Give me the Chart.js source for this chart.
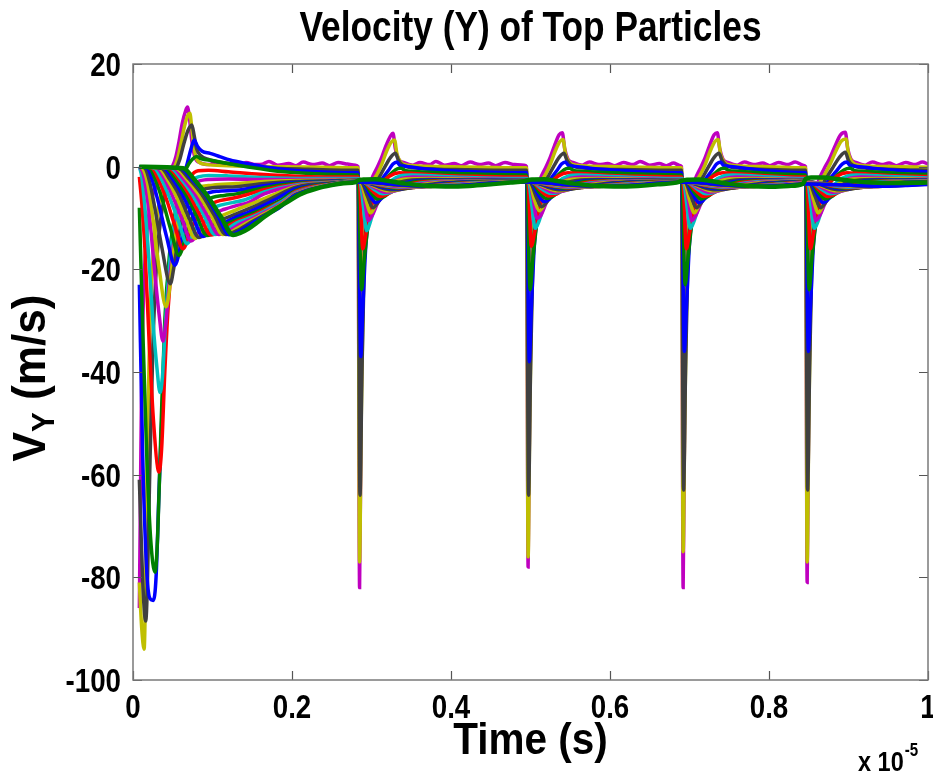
<!DOCTYPE html>
<html>
<head>
<meta charset="utf-8">
<title>Velocity (Y) of Top Particles</title>
<script src="https://cdn.jsdelivr.net/npm/chart.js@4.4.1/dist/chart.umd.min.js"></script>
<style>
  html, body { margin: 0; padding: 0; background: #fff; }
  canvas { display: block; }
</style>
</head>
<body>
<canvas id="vyChart" width="933" height="776"></canvas>
<script>
// time is in units of 1e-5 s, velocity in m/s; each particle is a list of [time, vy] points
const vy00 = [[0.008,-86],[0.0095,-62],[0.011,-40],[0.014,-22],[0.018,-12],[0.024,-6],[0.032,-3],[0.042,-1],[0.050,0.2],[0.054,2],[0.058,5],[0.062,8.5],[0.066,10.8],[0.0685,11.6],[0.071,9.5],[0.074,5],[0.078,1.8],[0.084,0.8],
  [0.096,0.4],[0.104,0.9],[0.113,0.3],[0.125,0.6],[0.133,0.2],[0.142,0.8],[0.155,0.4],[0.163,0.5],[0.171,1.0],[0.182,0.3],[0.196,0.6],[0.205,0.2],[0.214,0.9],[0.226,0.4],[0.238,0.7],[0.247,0.2],[0.258,0.8],[0.270,0.5],[0.280,0.3],
  [0.283,0],[0.285,-82],[0.287,-45],[0.290,-15],[0.294,-6],[0.300,-2.5],[0.306,-0.5],[0.312,1.5],[0.318,4],[0.324,6],[0.327,6.5],[0.330,3.5],[0.334,1.5],[0.341,0.8],
  [0.352,0.3],[0.361,0.8],[0.373,0.4],[0.381,1.0],[0.392,0.3],[0.404,0.6],[0.413,0.2],[0.424,0.9],[0.436,0.4],[0.447,0.7],[0.456,0.2],[0.468,0.8],[0.480,0.4],[0.492,0.3],
  [0.495,0],[0.497,-78],[0.499,-45],[0.502,-15],[0.506,-6],[0.512,-2.5],[0.518,-0.5],[0.524,1.5],[0.530,4],[0.536,6.2],[0.540,6.6],[0.543,3.5],[0.547,1.5],[0.554,0.8],
  [0.565,0.3],[0.574,0.9],[0.586,0.4],[0.597,0.6],[0.606,0.2],[0.617,0.8],[0.629,0.4],[0.638,1.0],[0.650,0.3],[0.662,0.6],[0.671,0.2],[0.680,0.7],[0.687,0.3],
  [0.690,0],[0.692,-82],[0.694,-45],[0.697,-15],[0.701,-6],[0.707,-2.5],[0.713,-0.5],[0.719,1.5],[0.725,4],[0.731,6.2],[0.735,6.6],[0.738,3.5],[0.742,1.5],[0.749,0.8],
  [0.760,0.3],[0.769,0.9],[0.781,0.4],[0.792,0.7],[0.801,0.2],[0.812,0.8],[0.824,0.4],[0.833,0.9],[0.843,0.3],
  [0.846,0],[0.848,-81],[0.850,-45],[0.853,-15],[0.857,-6],[0.863,-2.5],[0.869,-0.5],[0.876,1.5],[0.883,4],[0.890,6.2],[0.896,6.7],[0.899,3.5],[0.903,1.5],[0.910,0.8],
  [0.921,0.3],[0.930,0.9],[0.942,0.4],[0.951,0.7],[0.960,0.2],[0.972,0.8],[0.984,0.4],[0.993,0.9],[1.0,0.5]];
const vy01 = [[0.008,-81],[0.011,-90],[0.014,-94],[0.016,-80],[0.018,-55],[0.021,-32],[0.025,-18],[0.032,-8],[0.042,-3],[0.050,-0.8],[0.056,1.5],[0.061,5],[0.065,8],[0.069,10],[0.0715,10.4],[0.074,7.5],[0.077,3.5],[0.081,1.2],[0.09,0.5],[0.12,0.2],[0.18,0],[0.24,-0.1],[0.280,-0.2],
  [0.283,-0.2],[0.285,-77],[0.287,-50],[0.290,-20],[0.294,-8],[0.300,-3.5],[0.307,-1.5],[0.313,0.5],[0.319,3],[0.325,4.8],[0.329,5.2],[0.332,2.5],[0.336,1],[0.345,0.3],[0.40,0],[0.492,-0.2],
  [0.495,-0.2],[0.497,-76],[0.499,-50],[0.502,-20],[0.506,-8],[0.512,-3.5],[0.519,-1.5],[0.525,0.5],[0.531,3],[0.537,4.9],[0.541,5.3],[0.544,2.5],[0.548,1],[0.557,0.3],[0.61,0],[0.687,-0.2],
  [0.690,-0.2],[0.692,-75],[0.694,-50],[0.697,-20],[0.701,-8],[0.707,-3.5],[0.714,-1.5],[0.720,0.5],[0.726,3],[0.732,4.9],[0.736,5.3],[0.739,2.5],[0.743,1],[0.752,0.3],[0.80,0],[0.843,-0.2],
  [0.846,-0.2],[0.848,-77],[0.850,-50],[0.853,-20],[0.857,-8],[0.863,-3.5],[0.870,-1.5],[0.877,0.5],[0.884,3],[0.891,5],[0.897,5.4],[0.900,2.5],[0.904,1],[0.913,0.3],[0.96,0],[1.0,-0.1]];
const vy02 = [[0.008,-61],[0.012,-80],[0.016,-88.5],[0.018,-82],[0.021,-60],[0.025,-35],[0.030,-18],[0.037,-8],[0.045,-3],[0.053,-0.8],[0.059,1.5],[0.064,4.5],[0.069,7],[0.074,8.1],[0.077,6],[0.080,3.5],[0.085,2.2],[0.095,1.4],[0.12,0.6],[0.16,-0.1],[0.22,-0.5],[0.280,-0.7],
  [0.283,-0.7],[0.2855,-64],[0.288,-40],[0.291,-18],[0.296,-8],[0.303,-4],[0.310,-2],[0.317,0],[0.324,1.8],[0.330,2.6],[0.334,1.2],[0.339,0.3],[0.36,-0.3],[0.42,-0.6],[0.492,-0.7],
  [0.495,-0.7],[0.4975,-64],[0.500,-40],[0.503,-18],[0.508,-8],[0.515,-4],[0.522,-2],[0.529,0],[0.536,1.8],[0.542,2.6],[0.546,1.2],[0.551,0.3],[0.57,-0.3],[0.63,-0.6],[0.687,-0.7],
  [0.690,-0.7],[0.6925,-63],[0.695,-40],[0.698,-18],[0.703,-8],[0.710,-4],[0.717,-2],[0.724,0],[0.731,1.8],[0.737,2.6],[0.741,1.2],[0.746,0.3],[0.765,-0.3],[0.81,-0.6],[0.843,-0.7],
  [0.846,-0.7],[0.8485,-63],[0.851,-40],[0.854,-18],[0.859,-8],[0.866,-4],[0.873,-2],[0.881,0],[0.889,1.9],[0.896,2.8],[0.900,1.2],[0.905,0.3],[0.925,-0.3],[0.97,-0.6],[1.0,-0.7]];
const vy03 = [[0.008,-23],[0.012,-55],[0.017,-78],[0.021,-84],[0.0255,-84.5],[0.029,-80],[0.033,-62],[0.038,-42],[0.044,-23],[0.050,-14],[0.056,-7],[0.062,-2.5],[0.068,0.5],[0.073,3.5],[0.077,5.2],[0.081,4],[0.087,3],[0.097,2.6],[0.11,1.9],[0.122,1.3],[0.143,0.6],[0.164,0],[0.2,-0.7],[0.248,-1.1],[0.280,-1.2],
  [0.283,-1.2],[0.2865,-37],[0.289,-28],[0.293,-15],[0.298,-8],[0.305,-4.5],[0.313,-2.5],[0.321,-0.8],[0.327,0.5],[0.332,0.9],[0.336,0.2],[0.342,0.1],[0.36,-0.3],[0.40,-0.8],[0.45,-1.1],[0.492,-1.2],
  [0.495,-1.2],[0.4985,-38],[0.501,-28],[0.505,-15],[0.510,-8],[0.517,-4.5],[0.525,-2.5],[0.533,-0.8],[0.539,0.5],[0.544,0.9],[0.548,0.2],[0.554,0.1],[0.575,-0.3],[0.62,-0.8],[0.687,-1.2],
  [0.690,-1.2],[0.6935,-36],[0.696,-28],[0.700,-15],[0.705,-8],[0.712,-4.5],[0.720,-2.5],[0.728,-0.8],[0.734,0.5],[0.739,0.9],[0.743,0.2],[0.749,0.1],[0.77,-0.3],[0.80,-0.8],[0.843,-1.2],
  [0.846,-1.2],[0.8495,-36],[0.852,-28],[0.856,-15],[0.861,-8],[0.868,-4.5],[0.876,-2.5],[0.885,-0.8],[0.892,0.5],[0.898,0.9],[0.902,0.2],[0.908,0.1],[0.93,-0.3],[0.97,-0.8],[1.0,-1.0]];
const vy04 = [[0.008,-8],[0.012,-30],[0.017,-55],[0.022,-72],[0.0277,-79],[0.031,-72],[0.035,-52],[0.040,-30],[0.046,-17],[0.052,-10],[0.058,-5],[0.064,-1.5],[0.070,0.5],[0.075,1.5],[0.080,2.0],[0.086,1.5],[0.10,1.2],[0.12,0.6],[0.143,0],[0.19,-1.0],[0.23,-1.4],[0.280,-1.6],
  [0.283,-1.6],[0.2875,-24],[0.291,-18],[0.296,-11],[0.302,-6.5],[0.310,-3.8],[0.319,-2.2],[0.327,-1.0],[0.333,-0.4],[0.337,-0.3],[0.343,-0.8],[0.36,-1.0],[0.42,-1.4],[0.492,-1.6],
  [0.495,-1.6],[0.4995,-24],[0.503,-18],[0.508,-11],[0.514,-6.5],[0.522,-3.8],[0.531,-2.2],[0.539,-1.0],[0.545,-0.4],[0.549,-0.3],[0.555,-0.8],[0.575,-1.0],[0.63,-1.4],[0.687,-1.6],
  [0.690,-1.6],[0.6945,-23],[0.698,-18],[0.703,-11],[0.709,-6.5],[0.717,-3.8],[0.726,-2.2],[0.734,-1.0],[0.740,-0.4],[0.744,-0.3],[0.750,-0.8],[0.77,-1.0],[0.81,-1.4],[0.843,-1.6],
  [0.846,-1.6],[0.8505,-24],[0.854,-18],[0.859,-11],[0.865,-6.5],[0.873,-3.8],[0.882,-2.2],[0.891,-1.0],[0.898,-0.4],[0.902,-0.3],[0.908,-0.8],[0.93,-1.0],[0.97,-1.4],[1.0,-1.5]];
const vy05 = [[0.008,-2],[0.011,-7],[0.015,-16],[0.020,-33],[0.026,-50],[0.0327,-59.5],[0.036,-55],[0.040,-40],[0.044,-28],[0.050,-17],[0.057,-9],[0.064,-4.5],[0.072,-2],[0.082,-0.8],[0.095,-0.7],[0.12,-1.0],[0.16,-1.5],[0.21,-1.9],[0.280,-2.0],
  [0.283,-2.0],[0.285,-3],[0.289,-16],[0.293,-13],[0.298,-9],[0.305,-5.5],[0.313,-3.2],[0.323,-1.8],[0.335,-1.2],[0.35,-1.3],[0.39,-1.7],[0.44,-1.9],[0.492,-2.0],
  [0.495,-2.0],[0.497,-3],[0.501,-15.5],[0.505,-13],[0.510,-9],[0.517,-5.5],[0.525,-3.2],[0.535,-1.8],[0.547,-1.2],[0.56,-1.3],[0.60,-1.7],[0.65,-1.9],[0.687,-2.0],
  [0.690,-2.0],[0.692,-3],[0.696,-16],[0.700,-13],[0.705,-9],[0.712,-5.5],[0.720,-3.2],[0.730,-1.8],[0.742,-1.2],[0.755,-1.3],[0.79,-1.7],[0.843,-2.0],
  [0.846,-2.0],[0.848,-3],[0.852,-16],[0.856,-13],[0.861,-9],[0.868,-5.5],[0.876,-3.2],[0.886,-1.8],[0.898,-1.2],[0.91,-1.3],[0.95,-1.7],[1.0,-1.9]];
const vy06 = [[0.008,0],[0.011,-2],[0.015,-8],[0.020,-18],[0.025,-30],[0.030,-39],[0.034,-44],[0.037,-41],[0.041,-30],[0.046,-19],[0.052,-11],[0.060,-5.5],[0.070,-3],[0.082,-2],[0.095,-1.7],[0.12,-1.8],[0.16,-2.1],[0.21,-2.3],[0.280,-2.3],
  [0.283,-2.3],[0.286,-3],[0.290,-8],[0.294,-12.5],[0.299,-10.5],[0.306,-7],[0.314,-4.5],[0.324,-2.8],[0.336,-1.8],[0.35,-1.6],[0.39,-1.9],[0.44,-2.2],[0.492,-2.3],
  [0.495,-2.3],[0.498,-3],[0.502,-8],[0.506,-12],[0.511,-10.5],[0.518,-7],[0.526,-4.5],[0.536,-2.8],[0.548,-1.8],[0.56,-1.6],[0.60,-1.9],[0.65,-2.2],[0.687,-2.3],
  [0.690,-2.3],[0.693,-3],[0.697,-8],[0.701,-12],[0.706,-10.5],[0.713,-7],[0.721,-4.5],[0.731,-2.8],[0.743,-1.8],[0.755,-1.6],[0.79,-1.9],[0.843,-2.3],
  [0.846,-2.3],[0.849,-3],[0.853,-8],[0.857,-12],[0.862,-10.5],[0.869,-7],[0.877,-4.5],[0.887,-2.8],[0.899,-1.8],[0.91,-1.6],[0.95,-1.9],[1.0,-2.2]];
const vy07 = [[0.008,0],[0.012,-1],[0.016,-4],[0.021,-10],[0.027,-20],[0.033,-29],[0.0377,-34],[0.041,-31],[0.046,-22],[0.052,-14],[0.059,-8],[0.068,-4.5],[0.08,-3],[0.095,-2.5],[0.12,-2.4],[0.16,-2.5],[0.21,-2.5],[0.280,-2.5],
  [0.283,-2.5],[0.287,-3],[0.291,-6],[0.296,-10.5],[0.301,-9.5],[0.308,-7],[0.316,-4.8],[0.326,-3.2],[0.338,-2.3],[0.352,-2.0],[0.39,-2.2],[0.44,-2.4],[0.492,-2.5],
  [0.495,-2.5],[0.499,-3],[0.503,-6],[0.508,-10],[0.513,-9.5],[0.520,-7],[0.528,-4.8],[0.538,-3.2],[0.550,-2.3],[0.564,-2.0],[0.60,-2.2],[0.65,-2.4],[0.687,-2.5],
  [0.690,-2.5],[0.694,-3],[0.698,-6],[0.703,-10.5],[0.708,-9.5],[0.715,-7],[0.723,-4.8],[0.733,-3.2],[0.745,-2.3],[0.759,-2.0],[0.80,-2.3],[0.843,-2.5],
  [0.846,-2.5],[0.850,-3],[0.854,-6],[0.859,-10.5],[0.864,-9.5],[0.871,-7],[0.879,-4.8],[0.889,-3.2],[0.901,-2.3],[0.915,-2.0],[0.96,-2.3],[1.0,-2.4]];
const vy08 = [[0.008,0],[0.012,-0.3],[0.018,-3],[0.025,-10],[0.033,-20],[0.0415,-27.3],[0.045,-25],[0.05,-18],[0.056,-11],[0.065,-6.5],[0.08,-4.2],[0.10,-3.6],[0.13,-3.3],[0.165,-2.9],[0.205,-2.7],[0.25,-2.65],[0.28,-2.6],
  [0.283,-2.6],[0.288,-3.5],[0.293,-6.5],[0.299,-9],[0.305,-7.5],[0.313,-5],[0.325,-3.3],[0.343,-2.4],[0.373,-2.3],[0.433,-2.5],[0.492,-2.6],
  [0.495,-2.6],[0.500,-3.5],[0.505,-6.5],[0.511,-8.6],[0.517,-7.5],[0.525,-5],[0.537,-3.3],[0.555,-2.4],[0.585,-2.3],[0.645,-2.5],[0.687,-2.6],
  [0.690,-2.6],[0.695,-3.5],[0.700,-6.5],[0.706,-9],[0.712,-7.5],[0.720,-5],[0.732,-3.3],[0.750,-2.4],[0.780,-2.3],[0.843,-2.6],
  [0.846,-2.6],[0.851,-3.5],[0.856,-6.5],[0.862,-9],[0.868,-7.5],[0.876,-5],[0.888,-3.3],[0.906,-2.4],[0.936,-2.3],[1.0,-2.5]];
const vy09 = [[0.008,0],[0.015,-0.3],[0.021,-3],[0.028,-8.5],[0.036,-15.5],[0.047,-22.8],[0.051,-20],[0.056,-15],[0.063,-9.5],[0.072,-6.3],[0.085,-4.6],[0.10,-4.1],[0.13,-3.9],[0.165,-3.3],[0.205,-2.9],[0.25,-2.75],[0.28,-2.65],
  [0.283,-2.65],[0.289,-3.3],[0.295,-5.8],[0.302,-8],[0.308,-7],[0.316,-5.2],[0.328,-3.6],[0.346,-2.7],[0.373,-2.5],[0.433,-2.6],[0.492,-2.65],
  [0.495,-2.65],[0.501,-3.3],[0.507,-5.8],[0.514,-7.8],[0.520,-7],[0.528,-5.2],[0.540,-3.6],[0.558,-2.7],[0.585,-2.5],[0.645,-2.6],[0.687,-2.65],
  [0.690,-2.65],[0.696,-3.3],[0.702,-5.8],[0.709,-8],[0.715,-7],[0.723,-5.2],[0.735,-3.6],[0.753,-2.7],[0.780,-2.5],[0.843,-2.65],
  [0.846,-2.65],[0.852,-3.3],[0.858,-5.8],[0.865,-8],[0.871,-7],[0.879,-5.2],[0.891,-3.6],[0.909,-2.7],[0.936,-2.5],[1.0,-2.6]];
const vy10 = [[0.008,0],[0.018,-0.3],[0.024,-2.5],[0.032,-7],[0.042,-13.5],[0.053,-19.2],[0.057,-17.5],[0.062,-13.5],[0.069,-9.5],[0.078,-6.8],[0.09,-5.4],[0.105,-4.8],[0.13,-4.6],[0.165,-3.7],[0.205,-3.1],[0.25,-2.85],[0.28,-2.7],
  [0.283,-2.7],[0.290,-3.2],[0.297,-5.3],[0.305,-7],[0.312,-6.3],[0.320,-5],[0.332,-3.7],[0.350,-2.9],[0.378,-2.6],[0.433,-2.65],[0.492,-2.7],
  [0.495,-2.7],[0.502,-3.2],[0.509,-5.3],[0.517,-6.8],[0.524,-6.3],[0.532,-5],[0.544,-3.7],[0.562,-2.9],[0.590,-2.6],[0.645,-2.65],[0.687,-2.7],
  [0.690,-2.7],[0.697,-3.2],[0.704,-5.3],[0.712,-7],[0.719,-6.3],[0.727,-5],[0.739,-3.7],[0.757,-2.9],[0.785,-2.6],[0.843,-2.7],
  [0.846,-2.7],[0.853,-3.2],[0.860,-5.3],[0.868,-7],[0.875,-6.3],[0.883,-5],[0.895,-3.7],[0.913,-2.9],[0.941,-2.6],[1.0,-2.65]];
const vy11 = [[0.008,0],[0.021,-0.3],[0.028,-2.5],[0.037,-6.5],[0.047,-12],[0.058,-17.3],[0.062,-16],[0.068,-12.5],[0.076,-9.5],[0.086,-7.3],[0.10,-6],[0.115,-5.6],[0.13,-5.3],[0.165,-4.1],[0.205,-3.25],[0.25,-2.92],[0.28,-2.75],
  [0.283,-2.75],[0.291,-3.2],[0.299,-5],[0.308,-6.3],[0.315,-5.9],[0.324,-4.9],[0.336,-3.8],[0.353,-3.0],[0.383,-2.7],[0.433,-2.7],[0.492,-2.75],
  [0.495,-2.75],[0.503,-3.2],[0.511,-5],[0.520,-6.2],[0.527,-5.9],[0.536,-4.9],[0.548,-3.8],[0.565,-3.0],[0.595,-2.7],[0.645,-2.7],[0.687,-2.75],
  [0.690,-2.75],[0.698,-3.2],[0.706,-5],[0.715,-6.3],[0.722,-5.9],[0.731,-4.9],[0.743,-3.8],[0.760,-3.0],[0.790,-2.7],[0.843,-2.75],
  [0.846,-2.75],[0.854,-3.2],[0.862,-5],[0.871,-6.3],[0.878,-5.9],[0.887,-4.9],[0.899,-3.8],[0.916,-3.0],[0.946,-2.7],[1.0,-2.72]];
const vy12 = [[0.008,0],[0.024,-0.3],[0.032,-2.5],[0.042,-6.3],[0.052,-11.2],[0.063,-16],[0.067,-15],[0.073,-12.3],[0.081,-9.7],[0.092,-7.8],[0.105,-6.8],[0.12,-6.3],[0.135,-5.8],[0.165,-4.5],[0.205,-3.4],[0.25,-3.0],[0.28,-2.78],
  [0.283,-2.78],[0.292,-3.2],[0.301,-4.7],[0.311,-5.8],[0.318,-5.5],[0.328,-4.7],[0.340,-3.8],[0.358,-3.1],[0.388,-2.8],[0.433,-2.75],[0.492,-2.78],
  [0.495,-2.78],[0.504,-3.2],[0.513,-4.7],[0.523,-5.7],[0.530,-5.5],[0.540,-4.7],[0.552,-3.8],[0.570,-3.1],[0.600,-2.8],[0.645,-2.75],[0.687,-2.78],
  [0.690,-2.78],[0.699,-3.2],[0.708,-4.7],[0.718,-5.8],[0.725,-5.5],[0.735,-4.7],[0.747,-3.8],[0.765,-3.1],[0.795,-2.8],[0.843,-2.78],
  [0.846,-2.78],[0.855,-3.2],[0.864,-4.7],[0.874,-5.8],[0.881,-5.5],[0.891,-4.7],[0.903,-3.8],[0.921,-3.1],[0.951,-2.8],[1.0,-2.76]];
const vy13 = [[0.008,0],[0.027,-0.3],[0.036,-2.5],[0.046,-6],[0.057,-10.5],[0.068,-15],[0.072,-14.3],[0.078,-12.3],[0.086,-10],[0.097,-8.3],[0.11,-7.5],[0.125,-7],[0.14,-6.5],[0.165,-4.9],[0.205,-3.55],[0.25,-3.05],[0.28,-2.8],
  [0.283,-2.8],[0.293,-3.2],[0.303,-4.4],[0.314,-5.3],[0.322,-5.1],[0.332,-4.5],[0.344,-3.8],[0.363,-3.2],[0.393,-2.85],[0.438,-2.78],[0.492,-2.8],
  [0.495,-2.8],[0.505,-3.2],[0.515,-4.4],[0.526,-5.2],[0.534,-5.1],[0.544,-4.5],[0.556,-3.8],[0.575,-3.2],[0.605,-2.85],[0.650,-2.78],[0.687,-2.8],
  [0.690,-2.8],[0.700,-3.2],[0.710,-4.4],[0.721,-5.3],[0.729,-5.1],[0.739,-4.5],[0.751,-3.8],[0.770,-3.2],[0.800,-2.85],[0.843,-2.8],
  [0.846,-2.8],[0.856,-3.2],[0.866,-4.4],[0.877,-5.3],[0.885,-5.1],[0.895,-4.5],[0.907,-3.8],[0.926,-3.2],[0.956,-2.85],[1.0,-2.8]];
const vy14 = [[0.008,0],[0.030,-0.3],[0.040,-2.5],[0.050,-5.8],[0.062,-10.3],[0.073,-14.5],[0.077,-14],[0.083,-12.5],[0.091,-10.6],[0.102,-9.1],[0.115,-8.3],[0.13,-7.6],[0.145,-7],[0.165,-5.3],[0.205,-3.7],[0.25,-3.1],[0.28,-2.83],
  [0.283,-2.83],[0.294,-3.2],[0.305,-4.2],[0.317,-5.0],[0.326,-4.85],[0.337,-4.4],[0.349,-3.8],[0.368,-3.25],[0.398,-2.9],[0.443,-2.8],[0.492,-2.83],
  [0.495,-2.83],[0.506,-3.2],[0.517,-4.2],[0.529,-4.95],[0.538,-4.85],[0.549,-4.4],[0.561,-3.8],[0.580,-3.25],[0.610,-2.9],[0.655,-2.8],[0.687,-2.83],
  [0.690,-2.83],[0.701,-3.2],[0.712,-4.2],[0.724,-5.0],[0.733,-4.85],[0.744,-4.4],[0.756,-3.8],[0.775,-3.25],[0.805,-2.9],[0.843,-2.83],
  [0.846,-2.83],[0.857,-3.2],[0.868,-4.2],[0.880,-5.0],[0.889,-4.85],[0.900,-4.4],[0.912,-3.8],[0.931,-3.25],[0.961,-2.9],[1.0,-2.82]];
const vy15 = [[0.008,0],[0.033,-0.3],[0.043,-2.4],[0.054,-5.6],[0.066,-10],[0.078,-14],[0.083,-13.5],[0.09,-12.2],[0.1,-10.6],[0.13,-8.4],[0.15,-7.2],[0.17,-5.9],[0.205,-3.85],[0.25,-3.15],[0.28,-2.85],
  [0.283,-2.85],[0.295,-3.2],[0.308,-4.1],[0.321,-4.7],[0.331,-4.6],[0.343,-4.25],[0.355,-3.8],[0.373,-3.3],[0.403,-2.95],[0.448,-2.82],[0.492,-2.85],
  [0.495,-2.85],[0.507,-3.2],[0.520,-4.1],[0.533,-4.7],[0.543,-4.6],[0.555,-4.25],[0.567,-3.8],[0.585,-3.3],[0.615,-2.95],[0.660,-2.82],[0.687,-2.85],
  [0.690,-2.85],[0.702,-3.2],[0.715,-4.1],[0.728,-4.7],[0.738,-4.6],[0.750,-4.25],[0.762,-3.8],[0.780,-3.3],[0.810,-2.95],[0.843,-2.85],
  [0.846,-2.85],[0.858,-3.2],[0.871,-4.1],[0.884,-4.7],[0.894,-4.6],[0.906,-4.25],[0.918,-3.8],[0.936,-3.3],[0.966,-2.95],[1.0,-2.84]];
const vy16 = [[0.008,0],[0.036,-0.3],[0.046,-2.4],[0.058,-5.5],[0.070,-9.8],[0.083,-13.8],[0.088,-13.4],[0.095,-12.3],[0.105,-10.9],[0.13,-9.2],[0.155,-7.6],[0.175,-6.1],[0.205,-4.0],[0.25,-3.2],[0.28,-2.87],
  [0.283,-2.87],[0.296,-3.2],[0.310,-4],[0.325,-4.5],[0.335,-4.45],[0.347,-4.15],[0.360,-3.8],[0.378,-3.35],[0.408,-3.0],[0.453,-2.85],[0.492,-2.87],
  [0.495,-2.87],[0.508,-3.2],[0.522,-4],[0.537,-4.5],[0.547,-4.45],[0.559,-4.15],[0.572,-3.8],[0.590,-3.35],[0.620,-3.0],[0.665,-2.85],[0.687,-2.87],
  [0.690,-2.87],[0.703,-3.2],[0.717,-4],[0.732,-4.5],[0.742,-4.45],[0.754,-4.15],[0.767,-3.8],[0.785,-3.35],[0.815,-3.0],[0.843,-2.87],
  [0.846,-2.87],[0.859,-3.2],[0.873,-4],[0.888,-4.5],[0.898,-4.45],[0.910,-4.15],[0.923,-3.8],[0.941,-3.35],[0.971,-3.0],[1.0,-2.9]];
const vy17 = [[0.008,0],[0.039,-0.3],[0.050,-2.4],[0.062,-5.4],[0.075,-9.6],[0.088,-13.6],[0.093,-13.3],[0.1,-12.4],[0.11,-11.3],[0.13,-9.8],[0.145,-8.9],[0.165,-7.5],[0.18,-6.3],[0.205,-4.3],[0.25,-3.25],[0.28,-2.89],
  [0.283,-2.89],[0.297,-3.2],[0.312,-3.9],[0.329,-4.3],[0.339,-4.27],[0.351,-4.05],[0.365,-3.75],[0.383,-3.4],[0.413,-3.05],[0.458,-2.88],[0.492,-2.89],
  [0.495,-2.89],[0.509,-3.2],[0.524,-3.9],[0.541,-4.3],[0.551,-4.27],[0.563,-4.05],[0.577,-3.75],[0.595,-3.4],[0.625,-3.05],[0.670,-2.88],[0.687,-2.89],
  [0.690,-2.89],[0.704,-3.2],[0.719,-3.9],[0.736,-4.3],[0.746,-4.27],[0.758,-4.05],[0.772,-3.75],[0.790,-3.4],[0.820,-3.05],[0.843,-2.89],
  [0.846,-2.89],[0.860,-3.2],[0.875,-3.9],[0.892,-4.3],[0.902,-4.27],[0.914,-4.05],[0.928,-3.75],[0.946,-3.4],[0.976,-3.05],[1.0,-2.95]];
const vy18 = [[0.008,0],[0.042,-0.3],[0.053,-2.3],[0.066,-5.3],[0.080,-9.5],[0.093,-13.4],[0.098,-13.2],[0.106,-12.3],[0.115,-11.4],[0.13,-10.35],[0.15,-9.1],[0.165,-8.1],[0.185,-6.6],[0.205,-4.6],[0.25,-3.3],[0.28,-2.91],
  [0.283,-2.91],[0.298,-3.2],[0.314,-3.8],[0.333,-4.2],[0.343,-4.18],[0.355,-4.0],[0.370,-3.75],[0.388,-3.45],[0.418,-3.1],[0.463,-2.9],[0.492,-2.91],
  [0.495,-2.91],[0.510,-3.2],[0.526,-3.8],[0.545,-4.2],[0.555,-4.18],[0.567,-4.0],[0.582,-3.75],[0.600,-3.45],[0.630,-3.1],[0.675,-2.9],[0.687,-2.91],
  [0.690,-2.91],[0.705,-3.2],[0.721,-3.8],[0.740,-4.2],[0.750,-4.18],[0.762,-4.0],[0.777,-3.75],[0.795,-3.45],[0.825,-3.1],[0.843,-2.95],
  [0.846,-2.95],[0.861,-3.2],[0.877,-3.8],[0.896,-4.2],[0.906,-4.18],[0.918,-4.0],[0.933,-3.75],[0.951,-3.45],[0.981,-3.1],[1.0,-3.0]];
const vy19 = [[0.008,0],[0.045,-0.3],[0.057,-2.3],[0.070,-5.3],[0.084,-9.4],[0.098,-13.3],[0.103,-13.1],[0.112,-12.2],[0.13,-10.7],[0.15,-9.5],[0.165,-8.4],[0.19,-6.5],[0.205,-4.8],[0.25,-3.35],[0.28,-2.93],
  [0.283,-2.93],[0.299,-3.2],[0.316,-3.75],[0.338,-4.1],[0.348,-4.08],[0.360,-3.95],[0.375,-3.72],[0.393,-3.48],[0.423,-3.15],[0.468,-2.92],[0.492,-2.93],
  [0.495,-2.93],[0.511,-3.2],[0.528,-3.75],[0.550,-4.1],[0.560,-4.08],[0.572,-3.95],[0.587,-3.72],[0.605,-3.48],[0.635,-3.15],[0.680,-2.92],[0.687,-2.93],
  [0.690,-2.93],[0.706,-3.2],[0.723,-3.75],[0.745,-4.1],[0.755,-4.08],[0.767,-3.95],[0.782,-3.72],[0.800,-3.48],[0.830,-3.15],[0.843,-3.0],
  [0.846,-3.0],[0.862,-3.2],[0.879,-3.75],[0.901,-4.1],[0.911,-4.08],[0.923,-3.95],[0.938,-3.72],[0.956,-3.48],[0.986,-3.15],[1.0,-3.05]];
const vy20 = [[0.008,0],[0.048,-0.3],[0.060,-2.3],[0.074,-5.3],[0.089,-9.4],[0.103,-13.2],[0.108,-13.05],[0.117,-12.3],[0.13,-11.0],[0.15,-9.8],[0.165,-8.7],[0.185,-7.0],[0.205,-5.0],[0.25,-3.4],[0.28,-2.94],
  [0.283,-2.94],[0.300,-3.2],[0.318,-3.7],[0.343,-4.0],[0.353,-3.99],[0.365,-3.9],[0.380,-3.7],[0.398,-3.5],[0.428,-3.2],[0.473,-2.95],[0.492,-2.94],
  [0.495,-2.94],[0.512,-3.2],[0.530,-3.7],[0.555,-4.0],[0.565,-3.99],[0.577,-3.9],[0.592,-3.7],[0.610,-3.5],[0.640,-3.2],[0.687,-2.95],
  [0.690,-2.94],[0.707,-3.2],[0.725,-3.7],[0.750,-4.0],[0.760,-3.99],[0.772,-3.9],[0.787,-3.7],[0.805,-3.5],[0.835,-3.2],[0.843,-3.05],
  [0.846,-3.05],[0.863,-3.2],[0.881,-3.7],[0.906,-4.0],[0.916,-3.99],[0.928,-3.9],[0.943,-3.7],[0.961,-3.5],[0.991,-3.2],[1.0,-3.15]];
const vy21 = [[0.008,0],[0.051,-0.3],[0.063,-2.3],[0.078,-5.3],[0.093,-9.4],[0.108,-13.2],[0.113,-13.05],[0.121,-12.5],[0.13,-11.6],[0.15,-10.1],[0.165,-8.95],[0.185,-7.3],[0.205,-5.15],[0.25,-3.45],[0.28,-2.95],
  [0.283,-2.95],[0.301,-3.2],[0.321,-3.65],[0.349,-3.95],[0.361,-3.93],[0.373,-3.85],[0.388,-3.7],[0.408,-3.5],[0.438,-3.2],[0.492,-2.95],
  [0.495,-2.95],[0.513,-3.2],[0.533,-3.65],[0.561,-3.95],[0.573,-3.93],[0.585,-3.85],[0.600,-3.7],[0.620,-3.5],[0.650,-3.2],[0.687,-2.97],
  [0.690,-2.97],[0.708,-3.2],[0.728,-3.65],[0.756,-3.95],[0.768,-3.93],[0.780,-3.85],[0.795,-3.7],[0.815,-3.5],[0.843,-3.15],
  [0.846,-3.15],[0.864,-3.25],[0.884,-3.65],[0.912,-3.95],[0.924,-3.93],[0.936,-3.85],[0.951,-3.7],[0.971,-3.5],[1.0,-3.25]];
const vy22 = [[0.008,0],[0.054,-0.3],[0.067,-2.3],[0.082,-5.3],[0.098,-9.4],[0.113,-13.2],[0.118,-13.05],[0.125,-12.6],[0.13,-12.1],[0.15,-10.4],[0.165,-9.2],[0.185,-7.5],[0.205,-5.3],[0.25,-3.5],[0.28,-2.96],
  [0.283,-2.96],[0.302,-3.2],[0.324,-3.6],[0.355,-3.9],[0.367,-3.88],[0.380,-3.82],[0.395,-3.7],[0.415,-3.5],[0.443,-3.2],[0.492,-2.96],
  [0.495,-2.96],[0.514,-3.2],[0.536,-3.6],[0.567,-3.9],[0.579,-3.88],[0.592,-3.82],[0.607,-3.7],[0.627,-3.5],[0.655,-3.2],[0.687,-2.98],
  [0.690,-2.98],[0.709,-3.2],[0.731,-3.6],[0.762,-3.9],[0.774,-3.88],[0.787,-3.82],[0.802,-3.7],[0.822,-3.5],[0.843,-3.25],
  [0.846,-3.25],[0.865,-3.3],[0.887,-3.6],[0.918,-3.9],[0.930,-3.88],[0.943,-3.82],[0.958,-3.7],[0.978,-3.5],[1.0,-3.3]];
const vy23 = [[0.008,0],[0.057,-0.3],[0.070,-2.3],[0.086,-5.3],[0.102,-9.4],[0.117,-13.2],[0.122,-13.05],[0.13,-12.5],[0.15,-10.7],[0.165,-9.4],[0.185,-7.7],[0.205,-5.4],[0.25,-3.52],[0.28,-2.97],
  [0.283,-2.97],[0.303,-3.15],[0.328,-3.55],[0.363,-3.85],[0.375,-3.84],[0.388,-3.78],[0.403,-3.68],[0.423,-3.5],[0.448,-3.2],[0.492,-2.97],
  [0.495,-2.97],[0.515,-3.15],[0.540,-3.55],[0.575,-3.85],[0.587,-3.84],[0.600,-3.78],[0.615,-3.68],[0.635,-3.5],[0.660,-3.2],[0.687,-3.0],
  [0.690,-3.0],[0.710,-3.15],[0.735,-3.55],[0.770,-3.85],[0.782,-3.84],[0.795,-3.78],[0.810,-3.68],[0.830,-3.5],[0.843,-3.35],
  [0.846,-3.35],[0.866,-3.4],[0.891,-3.55],[0.926,-3.85],[0.938,-3.84],[0.951,-3.78],[0.966,-3.68],[0.986,-3.5],[1.0,-3.4]];
const vy24 = [[0.008,0],[0.060,-0.3],[0.073,-2.3],[0.090,-5.3],[0.106,-9.4],[0.121,-13.25],[0.126,-13.1],[0.13,-12.9],[0.15,-11.0],[0.165,-9.6],[0.185,-7.9],[0.205,-5.5],[0.25,-3.55],[0.28,-2.98],
  [0.283,-2.98],[0.305,-3.1],[0.333,-3.5],[0.373,-3.8],[0.383,-3.8],[0.396,-3.75],[0.411,-3.65],[0.431,-3.45],[0.453,-3.2],[0.492,-2.98],
  [0.495,-2.98],[0.517,-3.1],[0.545,-3.5],[0.585,-3.8],[0.595,-3.8],[0.608,-3.75],[0.623,-3.65],[0.643,-3.45],[0.665,-3.2],[0.687,-3.02],
  [0.690,-3.02],[0.712,-3.1],[0.740,-3.5],[0.780,-3.8],[0.790,-3.8],[0.803,-3.75],[0.818,-3.65],[0.843,-3.4],
  [0.846,-3.4],[0.868,-3.45],[0.896,-3.55],[0.936,-3.8],[0.946,-3.8],[0.959,-3.75],[0.974,-3.65],[1.0,-3.45]];
const vy25 = [[0.008,0],[0.063,-0.3],[0.076,-2.3],[0.093,-5.6],[0.110,-9.6],[0.126,-13.3],[0.135,-12.9],[0.145,-12.1],[0.155,-11.0],[0.165,-9.8],[0.18,-8.2],[0.195,-6.8],[0.21,-5.4],[0.23,-4.3],[0.25,-3.6],[0.265,-3.25],[0.28,-3.0],
  [0.283,-2.7],[0.290,-2.5],[0.305,-2.45],[0.322,-2.8],[0.343,-3.3],[0.368,-3.7],[0.393,-3.85],[0.423,-3.75],[0.453,-3.4],[0.475,-3.1],[0.492,-2.85],
  [0.495,-2.7],[0.502,-2.5],[0.517,-2.45],[0.534,-2.8],[0.555,-3.3],[0.580,-3.7],[0.605,-3.85],[0.635,-3.75],[0.660,-3.45],[0.687,-2.95],
  [0.690,-2.75],[0.697,-2.55],[0.712,-2.5],[0.729,-2.85],[0.750,-3.35],[0.775,-3.75],[0.800,-3.9],[0.825,-3.75],[0.843,-3.3],
  [0.846,-2.4],[0.853,-2.1],[0.868,-2.1],[0.885,-2.4],[0.906,-2.8],[0.931,-3.1],[0.956,-3.2],[0.98,-3.15],[1.0,-3.1]];

const particleSeries = [vy00, vy01, vy02, vy03, vy04, vy05, vy06, vy07, vy08, vy09, vy10, vy11, vy12,
  vy13, vy14, vy15, vy16, vy17, vy18, vy19, vy20, vy21, vy22, vy23, vy24, vy25];
const lineColors = ['#bf00bf', '#bfbf00', '#404040', '#0000ff', '#008000', '#ff0000', '#00bfbf'];
const xTicks = [0, 0.2, 0.4, 0.6, 0.8, 1];
const xTickLabels = ['0', '0.2', '0.4', '0.6', '0.8', '1'];
const yTicks = [-100, -80, -60, -40, -20, 0, 20];
const yTickLabels = ['-100', '-80', '-60', '-40', '-20', '0', '20'];

const FONT = "'Liberation Sans', Arial, sans-serif";
const SQUEEZE = 0.84;   // the figure uses a condensed helvetica

const datasets = particleSeries.map((pts, i) => ({
  label: 'particle ' + (i + 1),
  data: pts.map(p => ({ x: p[0], y: p[1] })),
  borderColor: lineColors[i % lineColors.length],
  borderWidth: i === particleSeries.length - 1 ? 4.5 : 3.5,
  pointRadius: 0,
  fill: false,
  cubicInterpolationMode: 'monotone',
  order: particleSeries.length - i   // later particles drawn on top
}));

function condensedText(ctx, text, x, y, size, align, squeeze) {
  ctx.save();
  ctx.font = 'bold ' + size + 'px ' + FONT;
  ctx.textAlign = align;
  ctx.translate(x, y);
  ctx.scale(squeeze || SQUEEZE, 1);
  ctx.fillText(text, 0, 0);
  ctx.restore();
}

// inward ticks, box and text labels like the matlab figure
const matlabAxes = {
  id: 'matlabAxes',
  afterDraw(chart) {
    const { ctx, chartArea: a, scales } = chart;
    ctx.save();
    ctx.strokeStyle = '#555';
    ctx.lineWidth = 1.2;
    ctx.beginPath();
    xTicks.forEach(v => {
      const px = Math.round(scales.x.getPixelForValue(v)) + 0.5;
      ctx.moveTo(px, a.bottom); ctx.lineTo(px, a.bottom - 9);
      ctx.moveTo(px, a.top); ctx.lineTo(px, a.top + 9);
    });
    yTicks.forEach(v => {
      const py = Math.round(scales.y.getPixelForValue(v)) + 0.5;
      ctx.moveTo(a.left, py); ctx.lineTo(a.left + 9, py);
      ctx.moveTo(a.right, py); ctx.lineTo(a.right - 9, py);
    });
    ctx.stroke();
    ctx.strokeStyle = '#7a7a7a';
    ctx.lineWidth = 1.5;
    ctx.strokeRect(a.left, a.top, a.right - a.left, a.bottom - a.top);

    ctx.fillStyle = '#000';
    ctx.textBaseline = 'alphabetic';

    // tick labels
    xTicks.forEach((v, k) => {
      condensedText(ctx, xTickLabels[k], scales.x.getPixelForValue(v), a.bottom + 38, 33, 'center');
    });
    yTicks.forEach((v, k) => {
      condensedText(ctx, yTickLabels[k], a.left - 12, scales.y.getPixelForValue(v) + 12, 33, 'right');
    });

    const cx = (a.left + a.right) / 2;
    condensedText(ctx, 'Velocity (Y) of Top Particles', cx, 41, 42, 'center');
    condensedText(ctx, 'Time (s)', cx, 754, 44, 'center', 0.92);

    // x 10^-5 multiplier
    condensedText(ctx, 'x 10', 858, 771, 28, 'left');
    ctx.font = 'bold 28px ' + FONT;
    const w10 = ctx.measureText('x 10').width * SQUEEZE;
    condensedText(ctx, '-5', 858 + w10 + 1, 756, 18, 'left');

    // y label with subscript
    const ySq = 0.96;
    ctx.font = 'bold 46px ' + FONT;
    const wV = ctx.measureText('V').width;
    const wRest = ctx.measureText(' (m/s)').width;
    ctx.font = 'bold 31px ' + FONT;
    const wY = ctx.measureText('Y').width;
    const total = (wV + wY + wRest) * ySq;
    ctx.translate(45, 378 + total / 2);
    ctx.rotate(-Math.PI / 2);
    ctx.scale(ySq, 1);
    ctx.textAlign = 'left';
    ctx.font = 'bold 46px ' + FONT;
    ctx.fillText('V', 0, 0);
    ctx.font = 'bold 31px ' + FONT;
    ctx.fillText('Y', wV, 9);
    ctx.font = 'bold 46px ' + FONT;
    ctx.fillText(' (m/s)', wV + wY, 0);
    ctx.restore();
  }
};

const ctx = document.getElementById('vyChart').getContext('2d');
const vyChart = new Chart(ctx, {
  type: 'line',
  data: { datasets: datasets },
  options: {
    responsive: false,
    animation: false,
    devicePixelRatio: 1,
    layout: { padding: { top: 64, right: 5, left: 0, bottom: 0 } },
    plugins: {
      legend: { display: false },
      tooltip: { enabled: false },
      title: { display: false }
    },
    scales: {
      x: {
        type: 'linear',
        min: 0,
        max: 1,
        afterBuildTicks: scale => { scale.ticks = xTicks.map(v => ({ value: v })); },
        afterFit: scale => { scale.height = 96; scale.paddingLeft = 0; scale.paddingRight = 0; },
        ticks: { display: false },
        grid: { display: false, drawTicks: false },
        border: { display: false }
      },
      y: {
        type: 'linear',
        min: -100,
        max: 20,
        afterBuildTicks: scale => { scale.ticks = yTicks.map(v => ({ value: v })); },
        afterFit: scale => { scale.width = 133; scale.paddingTop = 0; scale.paddingBottom = 0; },
        ticks: { display: false },
        grid: { display: false, drawTicks: false },
        border: { display: false }
      }
    }
  },
  plugins: [matlabAxes]
});
</script>
</body>
</html>
